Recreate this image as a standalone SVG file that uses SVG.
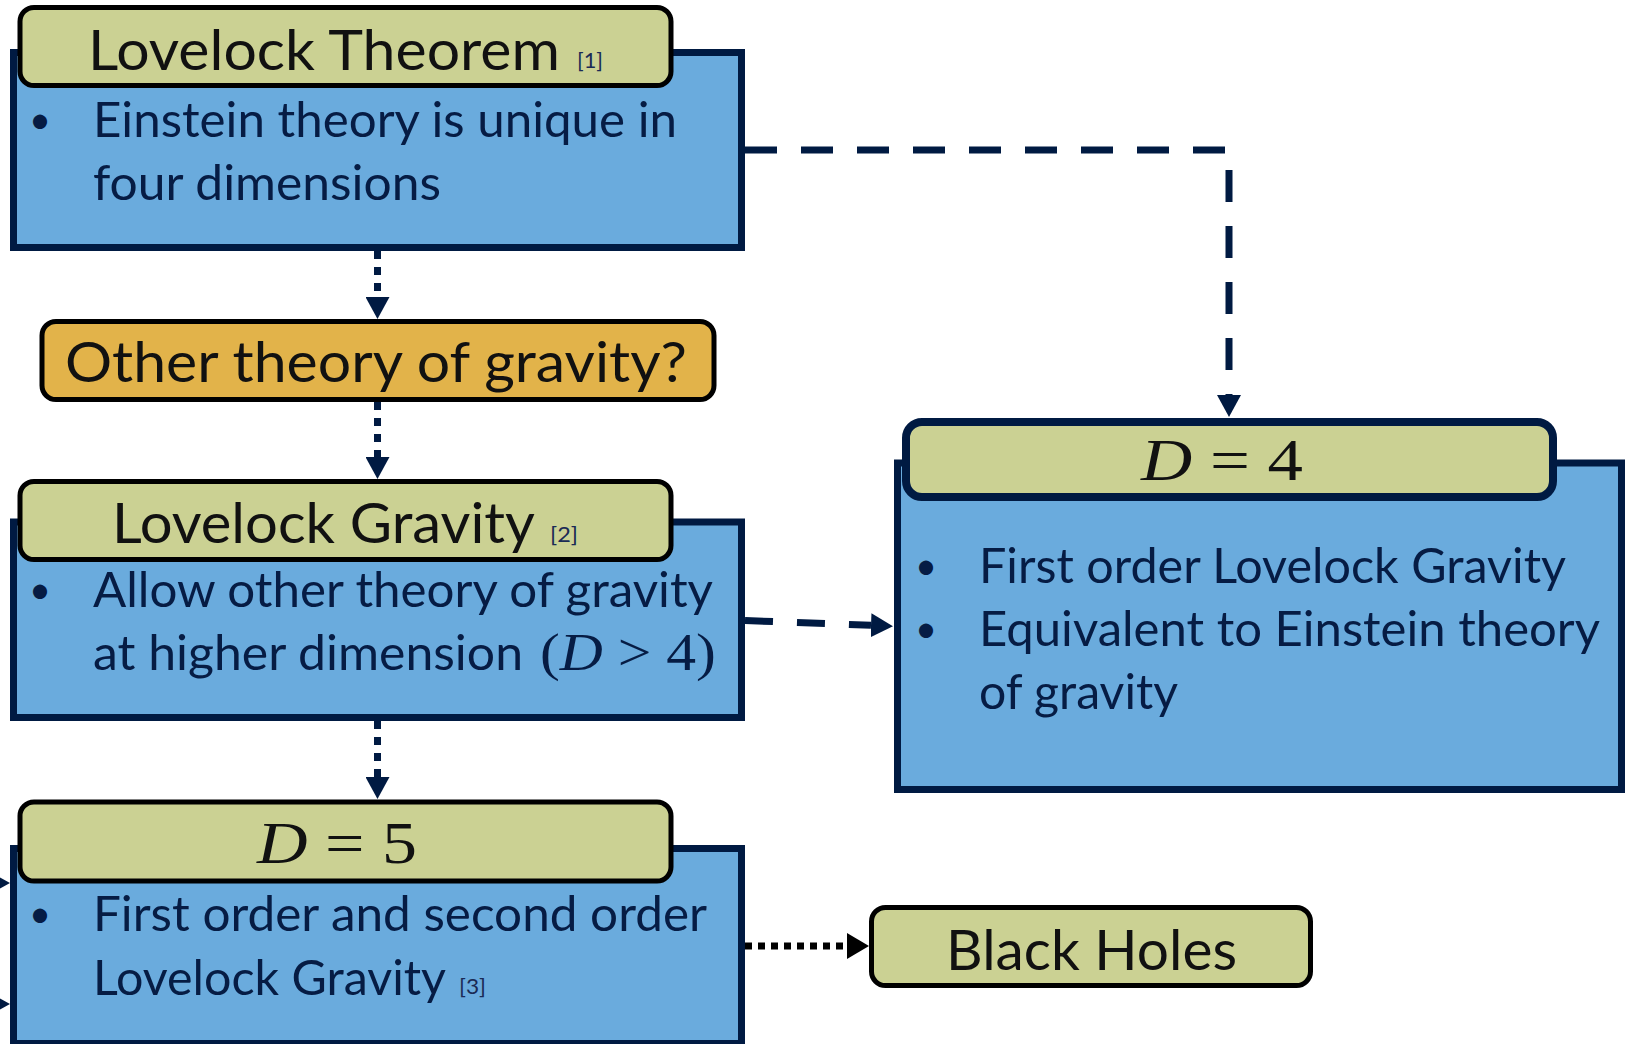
<svg xmlns="http://www.w3.org/2000/svg" width="1626" height="1044" viewBox="0 0 1626 1044">
<style>
.panel{fill:#6AABDD;stroke:#001A42;stroke-width:7}
.title{fill:#CBD193;stroke:#000;stroke-width:5}
.q{fill:#E2B34A;stroke:#000;stroke-width:5}
.tt{font-family:Lato,"Liberation Sans",sans-serif;font-size:57px;fill:#111}
.bt{font-family:Lato,"Liberation Sans",sans-serif;font-size:48px;fill:#061C44}
.bul{font-family:Lato,"Liberation Sans",sans-serif;font-size:38px;fill:#061C44}
.ref{font-family:Lato,"Liberation Sans",sans-serif;font-size:22px;fill:#1A2A55}
.math{font-family:"Liberation Serif","DejaVu Serif",serif;font-size:60px;fill:#111}
.mathb{font-family:"Liberation Serif","DejaVu Serif",serif;font-size:52px;fill:#061C44}
.conn{fill:none;stroke:#001A42;stroke-width:7}
</style>
<defs>
<marker id="ah" markerUnits="userSpaceOnUse" viewBox="0 0 22 24" markerWidth="22" markerHeight="24" refX="0" refY="12" orient="auto">
<path d="M0,0 L22,12 L0,24 z" fill="#001A42"/>
</marker>
<marker id="ahk" markerUnits="userSpaceOnUse" viewBox="0 0 22 26" markerWidth="22" markerHeight="26" refX="0" refY="13" orient="auto">
<path d="M0,0 L22,13 L0,26 z" fill="#000"/>
</marker>
</defs>
<rect width="1626" height="1044" fill="#fff"/>
<g id="connectors">
<path class="conn" d="M377.5,251 V297" stroke-dasharray="8 8" marker-end="url(#ah)"/>
<path class="conn" d="M377.5,402 V457" stroke-dasharray="8 8" marker-end="url(#ah)"/>
<path class="conn" d="M377.5,721 V777" stroke-dasharray="8 8" marker-end="url(#ah)"/>
<path class="conn" d="M745,150 H1229 V395" stroke-dasharray="32 24" marker-end="url(#ah)"/>
<path class="conn" d="M745,620.5 L871,625.3" stroke-dasharray="28 24" marker-end="url(#ah)"/>
<path class="conn" d="M745,946 H847" style="stroke:#000" stroke-dasharray="7 6" marker-end="url(#ahk)"/>
<path class="conn" d="M-60,883 H-12" marker-end="url(#ah)"/>
<path class="conn" d="M-60,1004 H-12" marker-end="url(#ah)"/>
</g>
<g id="node-lovelock-theorem">
<rect class="panel" x="13.5" y="52.5" width="728" height="195"/>
<rect class="title" x="20" y="7.5" width="651" height="78" rx="14"/>
<text class="tt" x="88" y="69.5" textLength="472" lengthAdjust="spacingAndGlyphs">Lovelock Theorem</text>
<text class="ref" x="577" y="68" textLength="26" lengthAdjust="spacingAndGlyphs">[1]</text>
<text class="bul" x="40" y="133" text-anchor="middle">•</text>
<text class="bt" x="93" y="137" textLength="584" lengthAdjust="spacingAndGlyphs">Einstein theory is unique in</text>
<text class="bt" x="93" y="200" textLength="348" lengthAdjust="spacingAndGlyphs">four dimensions</text>
</g>
<g id="node-other-theory">
<rect class="q" x="42" y="321.5" width="672" height="78" rx="14"/>
<text class="tt" x="65" y="381.5" textLength="622" lengthAdjust="spacingAndGlyphs">Other theory of gravity?</text>
</g>
<g id="node-lovelock-gravity">
<rect class="panel" x="13.5" y="522" width="728" height="195.5"/>
<rect class="title" x="20" y="481.5" width="651" height="78" rx="14"/>
<text class="tt" x="112" y="543" textLength="423" lengthAdjust="spacingAndGlyphs">Lovelock Gravity</text>
<text class="ref" x="550" y="542" textLength="28" lengthAdjust="spacingAndGlyphs">[2]</text>
<text class="bul" x="40" y="603" text-anchor="middle">•</text>
<text class="bt" x="93" y="606.5" textLength="620" lengthAdjust="spacingAndGlyphs">Allow other theory of gravity</text>
<text class="bt" x="93" y="670" textLength="430" lengthAdjust="spacingAndGlyphs">at higher dimension</text>
<text class="mathb" x="540" y="670" textLength="176" lengthAdjust="spacingAndGlyphs">(<tspan font-style="italic">D</tspan> &gt; 4)</text>
</g>
<g id="node-d5">
<rect class="panel" x="13.5" y="848.5" width="728" height="195"/>
<rect class="title" x="20" y="802" width="651" height="79" rx="14"/>
<text class="math" x="257" y="863" textLength="160" lengthAdjust="spacingAndGlyphs"><tspan font-style="italic">D</tspan> = 5</text>
<text class="bul" x="40" y="927" text-anchor="middle">•</text>
<text class="bt" x="93" y="931" textLength="614" lengthAdjust="spacingAndGlyphs">First order and second order</text>
<text class="bt" x="93" y="995" textLength="353" lengthAdjust="spacingAndGlyphs">Lovelock Gravity</text>
<text class="ref" x="459" y="994" textLength="27" lengthAdjust="spacingAndGlyphs">[3]</text>
</g>
<g id="node-d4">
<rect class="panel" x="897.5" y="463" width="724" height="326.5"/>
<rect class="title" x="906" y="422" width="647" height="75" rx="16" style="stroke:#001A42;stroke-width:8"/>
<text class="math" x="1141" y="480" textLength="162" lengthAdjust="spacingAndGlyphs"><tspan font-style="italic">D</tspan> = 4</text>
<text class="bul" x="926" y="579" text-anchor="middle">•</text>
<text class="bt" x="979" y="583" textLength="587" lengthAdjust="spacingAndGlyphs">First order Lovelock Gravity</text>
<text class="bul" x="926" y="642" text-anchor="middle">•</text>
<text class="bt" x="979" y="646" textLength="621" lengthAdjust="spacingAndGlyphs">Equivalent to Einstein theory</text>
<text class="bt" x="979" y="709" textLength="199" lengthAdjust="spacingAndGlyphs">of gravity</text>
</g>
<g id="node-black-holes">
<rect class="title" x="871.5" y="907.5" width="439" height="78" rx="14"/>
<text class="tt" x="946" y="970" textLength="291" lengthAdjust="spacingAndGlyphs">Black Holes</text>
</g>
</svg>
